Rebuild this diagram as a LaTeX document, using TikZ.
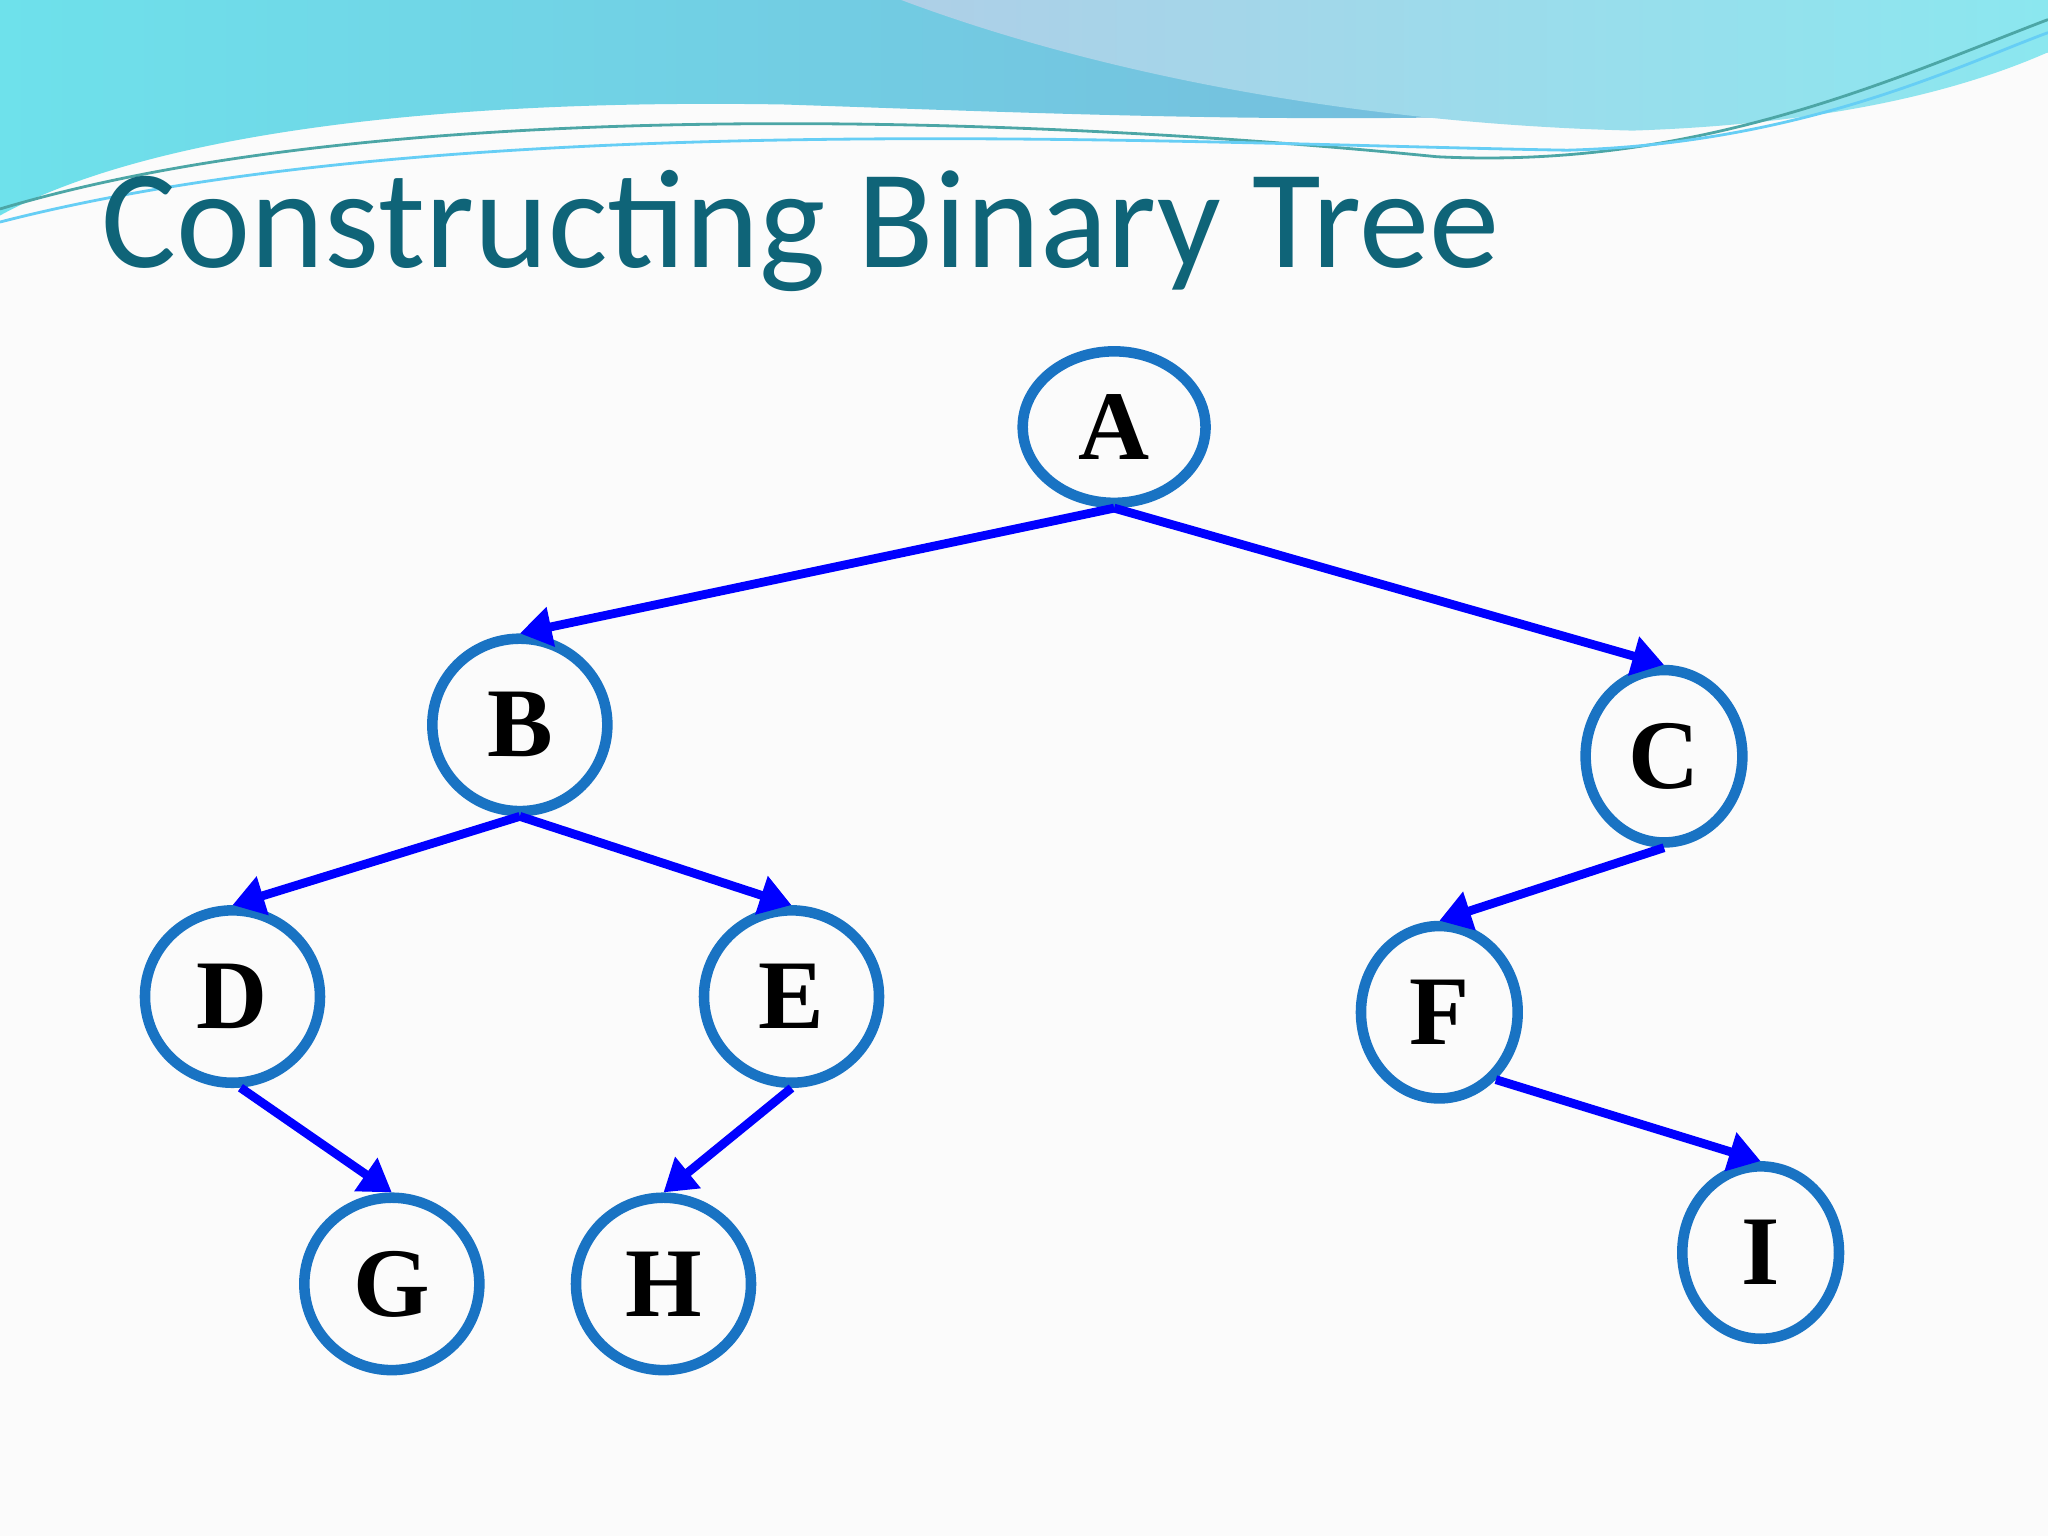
\documentclass[tikz,border=0pt]{standalone}
\usepackage{fontspec}
\setmainfont{Liberation Serif}
\newfontfamily\titlefont{Carlito}
\usetikzlibrary{shapes.geometric,arrows.meta}
\definecolor{ringblue}{RGB}{25,115,195}
\definecolor{titleteal}{RGB}{15,100,120}
\definecolor{wavecyan}{RGB}{110,225,235}
\definecolor{waveblue}{RGB}{120,175,215}
\newcommand{\px}{0.01306cm}
\begin{document}
\begin{tikzpicture}[
  x=\px, y=-\px,
  every node/.style = {
    shape=ellipse,
    draw=ringblue,
    line width=3pt,
    inner sep=0pt,
    font=\bfseries\fontsize{28}{30}\selectfont
  },
  wide/.style = {minimum width=134*\px, minimum height=132*\px},
  narrow/.style = {minimum width=120*\px, minimum height=132*\px},
  edge/.style = {-{Triangle[length=9pt,width=11pt]}, draw=blue, line width=2.5pt}
  ]
  % background and top wave
  \useasboundingbox (0,0) rectangle (1568,1176);
  \fill[white!97!gray] (0,0) rectangle (1568,1176);
  \shade[left color=wavecyan, right color=waveblue]
    (0,0) -- (1568,0) -- (1568,40) .. controls (1300,110) and (900,90) .. (600,80)
    .. controls (300,75) and (100,110) .. (0,165) -- cycle;
  \shade[left color=waveblue!60, right color=wavecyan!80]
    (690,0) .. controls (850,60) and (1050,95) .. (1250,100)
    .. controls (1400,95) and (1500,70) .. (1568,40) -- (1568,0) -- cycle;
  \draw[teal!70, line width=0.8pt] (0,160) .. controls (300,70) and (800,90) .. (1100,120)
    .. controls (1300,130) and (1450,60) .. (1568,15);
  \draw[cyan!60, line width=0.8pt] (0,170) .. controls (350,80) and (900,110) .. (1200,115)
    .. controls (1380,110) and (1500,50) .. (1568,25);
  \node[draw=none, shape=rectangle, anchor=base west, text=titleteal,
        font=\titlefont\fontsize{40}{44}\selectfont] (title) at (74,205) {Constructing Binary Tree};
  % tree nodes
  \node[minimum width=140*\px, minimum height=116*\px] (A) at (853,327) {A};
  \node[wide] (B) at (398,555) {B};
  \node[narrow] (C) at (1274,579) {C};
  \node[wide] (D) at (178,763) {D};
  \node[wide] (E) at (606,763) {E};
  \node[narrow] (F) at (1102,775) {F};
  \node[wide] (G) at (300,983) {G};
  \node[wide] (H) at (508,983) {H};
  \node[narrow] (I) at (1348,959) {I};
  % edges
  \draw[edge] (A.south) -- (B.north);
  \draw[edge] (A.south) -- (C.north);
  \draw[edge] (B.south) -- (D.north);
  \draw[edge] (B.south) -- (E.north);
  \draw[edge] (C.south) -- (F.north);
  \draw[edge] (D.-85) -- (G.north);
  \draw[edge] (E.south) -- (H.north);
  \draw[edge] (F.-50) -- (I.north);
\end{tikzpicture}
\end{document}
